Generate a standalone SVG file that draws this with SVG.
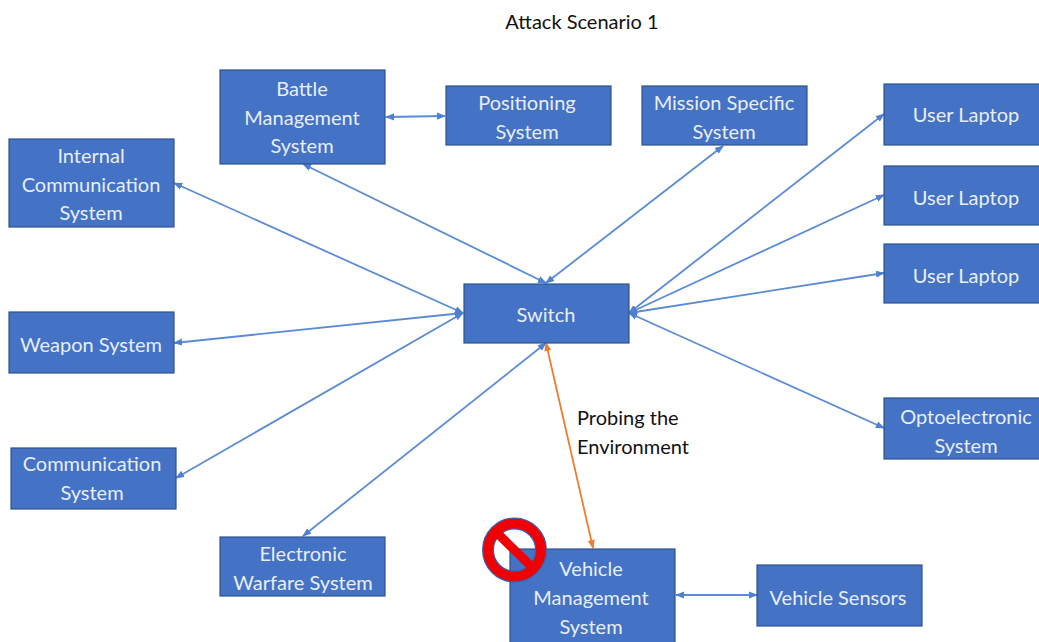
<svg xmlns="http://www.w3.org/2000/svg" width="1039" height="642" viewBox="0 0 1039 642">
<defs>
<marker id="b" viewBox="0 0 10 10" refX="9" refY="5" markerWidth="9" markerHeight="9" markerUnits="userSpaceOnUse" orient="auto-start-reverse"><path d="M0 1L10 5L0 9Z" fill="#4f81d0"/></marker>
<marker id="o" viewBox="0 0 10 10" refX="9" refY="5" markerWidth="9" markerHeight="9" markerUnits="userSpaceOnUse" orient="auto-start-reverse"><path d="M0 1L10 5L0 9Z" fill="#ed7d31"/></marker>
</defs>
<style>
rect.n{fill:#4472c4;stroke:#2f528f;stroke-width:1.2}
text.w{font-family:Lato,"Liberation Sans",sans-serif;font-size:20px;fill:#e8eef9;text-anchor:middle}
text.k{font-family:Lato,"Liberation Sans",sans-serif;font-size:20px;fill:#111}
#c line{stroke:#5b8bd6;stroke-width:1.8;marker-start:url(#b);marker-end:url(#b)}
#c line.o{stroke:#ed7d31;marker-start:url(#o);marker-end:url(#o)}
</style>
<rect width="1039" height="642" fill="#fff"/>
<text class="k" x="582" y="29" text-anchor="middle">Attack Scenario 1</text>
<g id="c">
<line x1="386" y1="117" x2="445" y2="116"/>
<line x1="303" y1="164" x2="546" y2="283"/>
<line x1="723" y1="146" x2="546" y2="283"/>
<line x1="174" y1="183" x2="463" y2="313"/>
<line x1="174" y1="343" x2="463" y2="313"/>
<line x1="176" y1="478" x2="463" y2="313"/>
<line x1="303" y1="536" x2="546" y2="343"/>
<line x1="884" y1="114" x2="629" y2="313"/>
<line x1="884" y1="195" x2="629" y2="313"/>
<line x1="884" y1="273" x2="629" y2="313"/>
<line x1="884" y1="428" x2="629" y2="313"/>
<line class="o" x1="546" y1="343" x2="593" y2="548"/>
<line x1="676" y1="595" x2="757" y2="595"/>
</g>
<g id="battle"><rect class="n" x="220" y="70" width="165" height="94"/><text class="w"><tspan x="302" y="96">Battle</tspan><tspan x="302" y="125">Management</tspan><tspan x="302" y="153">System</tspan></text></g>
<g id="positioning"><rect class="n" x="446" y="86" width="165" height="59"/><text class="w"><tspan x="527" y="110">Positioning</tspan><tspan x="527" y="139">System</tspan></text></g>
<g id="mission"><rect class="n" x="642" y="86" width="165" height="59"/><text class="w"><tspan x="724" y="110">Mission Specific</tspan><tspan x="724" y="139">System</tspan></text></g>
<g id="laptop1"><rect class="n" x="884" y="84" width="165" height="61"/><text class="w" x="966" y="122">User Laptop</text></g>
<g id="laptop2"><rect class="n" x="884" y="166" width="165" height="59"/><text class="w" x="966" y="205">User Laptop</text></g>
<g id="laptop3"><rect class="n" x="884" y="244" width="165" height="59"/><text class="w" x="966" y="283">User Laptop</text></g>
<g id="internal"><rect class="n" x="9" y="139" width="165" height="88"/><text class="w"><tspan x="91" y="163">Internal</tspan><tspan x="91" y="192">Communication</tspan><tspan x="91" y="220">System</tspan></text></g>
<g id="switch"><rect class="n" x="464" y="284" width="165" height="59"/><text class="w" x="546" y="322">Switch</text></g>
<g id="weapon"><rect class="n" x="9" y="312" width="165" height="61"/><text class="w" x="91" y="352">Weapon System</text></g>
<g id="optoelectronic"><rect class="n" x="884" y="398" width="165" height="61"/><text class="w"><tspan x="966" y="424">Optoelectronic</tspan><tspan x="966" y="453">System</tspan></text></g>
<g id="communication"><rect class="n" x="11" y="448" width="165" height="61"/><text class="w"><tspan x="92" y="471">Communication</tspan><tspan x="92" y="500">System</tspan></text></g>
<g id="electronic"><rect class="n" x="220" y="537" width="165" height="59"/><text class="w"><tspan x="303" y="561">Electronic</tspan><tspan x="303" y="590">Warfare System</tspan></text></g>
<g id="vehicle"><rect class="n" x="510" y="549" width="165" height="94"/><text class="w"><tspan x="591" y="576">Vehicle</tspan><tspan x="591" y="605">Management</tspan><tspan x="591" y="634">System</tspan></text></g>
<g id="sensors"><rect class="n" x="757" y="565" width="165" height="61"/><text class="w" x="838" y="605">Vehicle Sensors</text></g>
<text class="k" x="577" y="425">Probing the</text>
<text class="k" x="577" y="454">Environment</text>
<g id="no" fill="none"><circle cx="514.5" cy="550" r="26.5" stroke="#3b5fae" stroke-width="12"/><circle cx="514.5" cy="550" r="26.5" stroke="#f00000" stroke-width="9.5"/><path d="M496 532L533 568" stroke="#f00000" stroke-width="9"/></g>
</svg>
